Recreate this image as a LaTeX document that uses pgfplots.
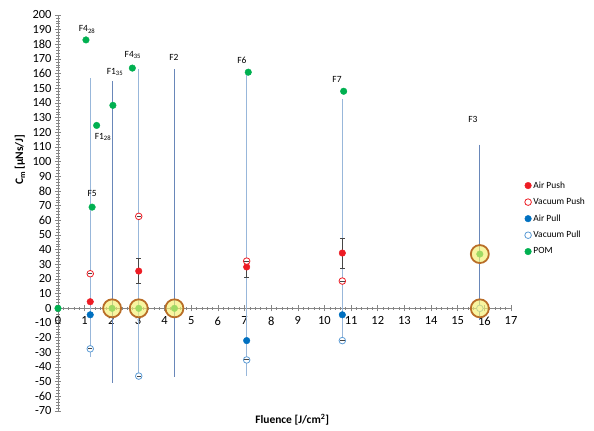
\documentclass[border=0pt]{standalone}
\usepackage{fontspec}
\setmainfont{Carlito}
\usepackage{pgfplots}
\pgfplotsset{compat=1.18}
\definecolor{apush}{RGB}{237,28,36}
\definecolor{apull}{RGB}{0,112,192}
\definecolor{vpull}{RGB}{91,155,213}
\definecolor{pom}{RGB}{0,176,80}
\definecolor{axgray}{RGB}{134,134,134}
\definecolor{lnlight}{RGB}{152,183,218}
\definecolor{lndark}{RGB}{105,135,185}
\definecolor{hlfill}{RGB}{245,240,110}
\definecolor{hldraw}{RGB}{185,110,40}
\definecolor{ebar}{RGB}{70,70,70}
\begin{document}
\begin{tikzpicture}
\begin{axis}[
  scale only axis, width=453bp, height=396bp,
  xmin=0, xmax=17, ymin=-70, ymax=200,
  axis lines=middle,
  hide obscured x ticks=false, hide obscured y ticks=false,
  axis line style={axgray, line width=0.8pt, -},
  xtick={0,...,17}, ytick={-70,-60,...,200},
  minor x tick num=4, minor y tick num=4,
  tick align=center,
  major tick length=6bp, minor tick length=3bp,
  tick style={axgray, line width=0.6pt},
  every tick label/.append style={font=\fontsize{12.5}{14}\selectfont, text=black},
  xticklabel style={yshift=-2bp},
  /pgf/number format/assume math mode=true,
  clip=false,
  legend style={at={(axis description cs:1.03,0.585)}, anchor=north west, draw=none, fill=none,
    font=\fontsize{9.5}{11}\selectfont, row sep=4.5bp, inner sep=0pt},
  legend cell align=left,
  /tikz/every even column/.append style={column sep=1bp},
]
% vertical lines
\addplot[lnlight, line width=1.4pt, forget plot] coordinates {(1.21,157) (1.21,-33)};
\addplot[lndark, line width=0.8pt, forget plot] coordinates {(2.03,155) (2.03,-50.7)};
\addplot[lnlight, line width=1.4pt, forget plot] coordinates {(3.03,163) (3.03,-46)};
\addplot[lndark, line width=0.8pt, forget plot] coordinates {(4.37,163) (4.37,-47)};
\addplot[lnlight, line width=1.4pt, forget plot] coordinates {(7.08,161) (7.08,-46)};
\addplot[lnlight, line width=1.4pt, forget plot] coordinates {(10.67,143) (10.67,-22)};
\addplot[lndark, line width=0.9pt, forget plot] coordinates {(15.83,111.6) (15.83,-8)};
% Air Push
\addplot[only marks, mark=*, mark size=3.3bp, color=apush,
  error bars/.cd, y dir=both, y explicit,
  error bar style={ebar, line width=0.9pt},
  error mark options={ebar, rotate=90, mark size=2.5bp, line width=0.9pt}]
  coordinates {(1.21,4.5) (3.03,25.4) += (0,8.5) -= (0,8.6) (7.08,28.2) += (0,4.5) -= (0,6.9) (10.67,37.7) += (0,9.8) -= (0,10.2)};
\addlegendentry{Air Push}
% Vacuum Push
\addplot[only marks, mark=*, mark size=3.3bp, color=apush, mark options={fill=white, line width=0.8pt}]
  coordinates {(1.21,23.6) (3.03,62.7) (7.08,32.2) (10.67,18.6)};
\addlegendentry{Vacuum Push}
% Air Pull
\addplot[only marks, mark=*, mark size=3.3bp, color=apull]
  coordinates {(1.21,-4.4) (7.08,-22) (10.67,-4.4)};
\addlegendentry{Air Pull}
% Vacuum Pull
\addplot[only marks, mark=*, mark size=3.3bp, color=vpull, mark options={fill=white, line width=0.8pt}]
  coordinates {(1.21,-27.6) (3.03,-46.2) (7.08,-35.2) (10.67,-22) (15.83,0)};
\addlegendentry{Vacuum Pull}
% POM
\addplot[only marks, mark=*, mark size=3.3bp, color=pom]
  coordinates {(0,0) (1.05,183) (1.45,124.7) (2.06,138.4) (2.79,163.8) (1.28,69) (7.14,161) (10.72,148) (15.83,37) (2.03,0) (3.03,0) (4.37,0)};
\addlegendentry{POM}
% error caps inside the open circles
\addplot[only marks, mark=-, mark size=2.2bp, ebar, line width=1pt, forget plot]
  coordinates {(1.21,23.6) (3.03,62.7) (7.08,32.2) (10.67,18.6) (1.21,-27.6) (3.03,-46.2) (7.08,-35.2) (10.67,-22)};
% highlight circles
\addplot[only marks, mark=*, mark size=9bp, forget plot,
  mark options={fill=hlfill, fill opacity=0.65, draw=hldraw, line width=1.8pt}]
  coordinates {(2.03,0) (3.03,0) (4.37,0) (15.83,0) (15.83,37)};
% annotations
\begin{scope}[every node/.style={font=\fontsize{9.5}{11}\selectfont}]
\node at (axis cs:1.09,190) {F4\textsubscript{28}};
\node at (axis cs:2.14,161) {F1\textsubscript{35}};
\node at (axis cs:2.81,173) {F4\textsubscript{35}};
\node at (axis cs:4.35,171) {F2};
\node at (axis cs:1.69,117) {F1\textsubscript{28}};
\node at (axis cs:1.28,78) {F5};
\node at (axis cs:6.9,169) {F6};
\node at (axis cs:10.47,156) {F7};
\node at (axis cs:15.57,129) {F3};
\end{scope}
\node[rotate=90, font=\bfseries\fontsize{11.5}{13}\selectfont] at (axis description cs:-0.084,0.634) {C\textsubscript{m} [µNs/J]};
\node[font=\bfseries\fontsize{11.5}{13}\selectfont] at (axis description cs:0.517,-0.022) {Fluence [J/cm\textsuperscript{2}]};
\end{axis}
\pgfresetboundingbox
\path ([xshift=-58bp,yshift=-20bp]current axis.south west) rectangle ([xshift=83bp,yshift=15bp]current axis.north east);
\end{tikzpicture}
\end{document}
